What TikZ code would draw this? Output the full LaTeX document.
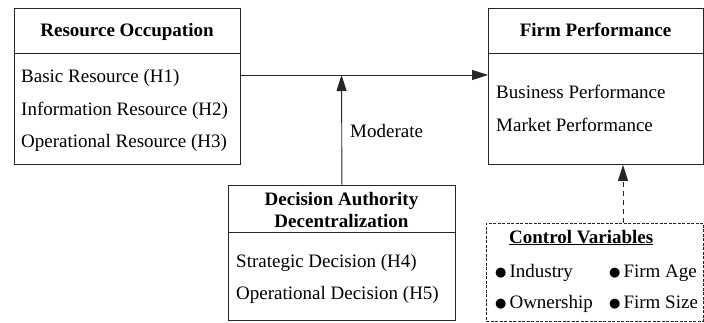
\documentclass[tikz,border=0pt]{standalone}
\usepackage{fontspec}
\setmainfont{LiberationSerif}[Extension=.ttf, UprightFont=*-Regular, BoldFont=*-Bold, ItalicFont=*-Italic, BoldItalicFont=*-BoldItalic]
\newfontfamily\symfont{DejaVu Sans}
\newcommand{\bul}{\raisebox{0.5pt}{\symfont\fontsize{13}{13}\selectfont ●}\hspace{3pt}}
\usetikzlibrary{arrows.meta,calc}
\begin{document}
\begin{tikzpicture}[x=1pt,y=-1pt,
  box/.style={draw=black!85, line width=0.9pt, inner sep=0pt, anchor=north west},
  divider/.style={draw=black!85, line width=0.9pt},
  title/.style={font=\fontsize{19}{24}\selectfont\bfseries, anchor=base, inner sep=0pt},
  item/.style={font=\fontsize{19}{24}\selectfont, anchor=base west, inner sep=0pt},
  conn/.style={line width=0.9pt, draw=black!85, -{Triangle[length=16pt,width=10pt]}},
  dconn/.style={conn, dash pattern=on 5pt off 4pt}]
\useasboundingbox (0,0) rectangle (704,322);

% Resource Occupation
\node[box, minimum width=226pt, minimum height=156pt] (ro) at (14,8) {};
\draw[divider] ($(ro.north west)+(0,45)$) -- ($(ro.north east)+(0,45)$);
\node[title] (rot) at (127,36) {Resource Occupation};
\node[item] (ro1) at (21,82) {Basic Resource (H1)};
\node[item] (ro2) at (21,115) {Information Resource (H2)};
\node[item] (ro3) at (21,147) {Operational Resource (H3)};

% Firm Performance
\node[box, minimum width=215pt, minimum height=156pt] (fp) at (488,8) {};
\draw[divider] ($(fp.north west)+(0,45)$) -- ($(fp.north east)+(0,45)$);
\node[title] (fpt) at (595.5,36) {Firm Performance};
\node[item] (fp1) at (496,98) {Business Performance};
\node[item] (fp2) at (496,131) {Market Performance};

% Decision Authority Decentralization
\node[box, minimum width=227pt, minimum height=135pt] (da) at (228,185) {};
\draw[divider] ($(da.north west)+(0,47)$) -- ($(da.north east)+(0,47)$);
\node[title] (dat1) at (341.5,205) {Decision Authority};
\node[title] (dat2) at (341.5,227) {Decentralization};
\node[item] (da1) at (236,267) {Strategic Decision (H4)};
\node[item] (da2) at (236,299) {Operational Decision (H5)};

% Control Variables
\node[box, minimum width=217pt, minimum height=98pt, dash pattern=on 3pt off 1.5pt, line width=0.7pt] (cv) at (486,223) {};
\node[item, font=\fontsize{19}{24}\selectfont\bfseries] (cvt) at (509,243) {\underline{Control Variables}};
\node[item] (cv1) at (495,277) {\bul Industry};
\node[item] (cv2) at (609,277) {\bul Firm Age};
\node[item] (cv3) at (495,308) {\bul Ownership};
\node[item] (cv4) at (609,308) {\bul Firm Size};

% Connectors
\coordinate (mid) at (341.5,75);
\draw[conn] (ro.east |- mid) -- (fp.west |- mid);
\draw[conn] (da.north) -- (mid);
\node[item] (mod) at (350,137) {Moderate};
\coordinate (cvtop) at (623,223);
\draw[dconn] (cvtop) -- (fp.south -| cvtop);
\end{tikzpicture}
\end{document}
